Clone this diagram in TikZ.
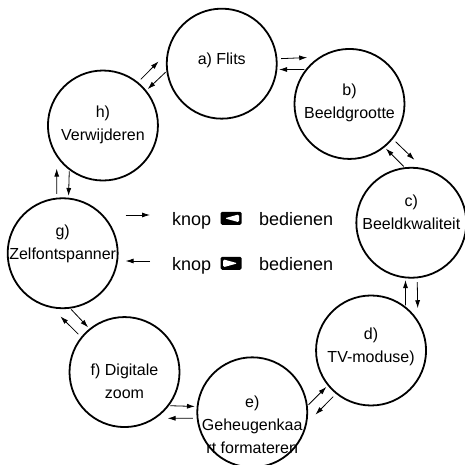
\documentclass[tikz,border=0pt]{standalone}
\usepackage{fontspec}
\setmainfont{Liberation Sans}
\usetikzlibrary{arrows.meta,calc,positioning}

\tikzset{
  station/.style={circle, draw, line width=1.8pt, minimum size=110pt, inner sep=0pt},
  station text/.style={align=center, font=\fontsize{16}{23}\selectfont},
  nav/.style={-{Latex[length=8pt,width=5pt]}, line width=0.8pt},
  legend/.style={inner sep=0pt, font=\fontsize{18}{22}\selectfont},
  btn/.style={fill=black, rounded corners=1.5pt, minimum width=21pt,
    minimum height=13pt, inner sep=0pt},
  tri left/.style={path picture={
    \fill[white] ([xshift=4pt]path picture bounding box.west)
      -- ([xshift=-2.5pt,yshift=-2.5pt]path picture bounding box.north east)
      -- ([xshift=-2.5pt,yshift=2.5pt]path picture bounding box.south east) -- cycle;}},
  tri right/.style={path picture={
    \fill[white] ([xshift=-4pt]path picture bounding box.east)
      -- ([xshift=2.5pt,yshift=-2.5pt]path picture bounding box.north west)
      -- ([xshift=2.5pt,yshift=2.5pt]path picture bounding box.south west) -- cycle;}}
}

\begin{document}
\begin{tikzpicture}[x=1pt, y=1pt]
  \useasboundingbox (0,0) rectangle (464,-465);
  \coordinate (ring) at (237,-238);

  % menu items round the ring
  \foreach \name/\ang/\dy/\txt in {a/95/3/{a) Flits}, b/50/1.5/{b)\\Beeldgrootte},
      c/5/10/{c)\\Beeldkwaliteit}, d/-40/3.5/{d)\\TV-moduse)},
      e/-85/-12/{e)\\Geheugenkaa\\rt formateren}, f/-130/-9/{f) Digitale\\zoom},
      g/-175/9/{g)\\Zelfontspanner}, h/140/1/{h)\\Verwijderen}}
    \node[station, label={[station text, yshift=\dy pt]center:{\txt}}]
      (\name) at ($(ring)+(\ang:175)$) {};

  % arrows between neighbours
  \foreach \from/\to [count=\k from 0] in {a/b, b/c, c/d, d/e, e/f, f/g, g/h, h/a} {
    \pgfmathsetmacro\fa{5.7-45*\k}
    \pgfmathsetmacro\fb{123.8-45*\k}
    \pgfmathsetmacro\ba{142.1-45*\k}
    \pgfmathsetmacro\bb{-6.7-45*\k}
    \draw[nav, shorten <=3.8pt, shorten >=11.8pt] (\from.\fa) -- (\to.\fb);
    \draw[nav, shorten <=1.1pt, shorten >=1.7pt] (\to.\ba) -- (\from.\bb);
  }

  % legend
  \node[legend, anchor=base west] (knop1) at (172,-225) {knop};
  \node[btn, tri left, anchor=south west] (btn1) at ([xshift=9pt]knop1.base east) {};
  \node[legend, anchor=base west] (bed1) at ([xshift=17pt]btn1.south east) {bedienen};
  \node[legend, anchor=base west] (knop2) at (172,-270) {knop};
  \node[btn, tri right, anchor=south west] (btn2) at ([xshift=9pt]knop2.base east) {};
  \node[legend, anchor=base west] (bed2) at ([xshift=17pt]btn2.south east) {bedienen};

  \coordinate (in1) at ([yshift=10pt]knop1.base west);
  \coordinate (in2) at ([yshift=9pt]knop2.base west);
  \draw[nav, shorten <=7pt, shorten >=22pt] (in1 -| g.east) -- (in1);
  \draw[nav, shorten <=22pt, shorten >=7pt] (in2) -- (in2 -| g.east);
\end{tikzpicture}
\end{document}
